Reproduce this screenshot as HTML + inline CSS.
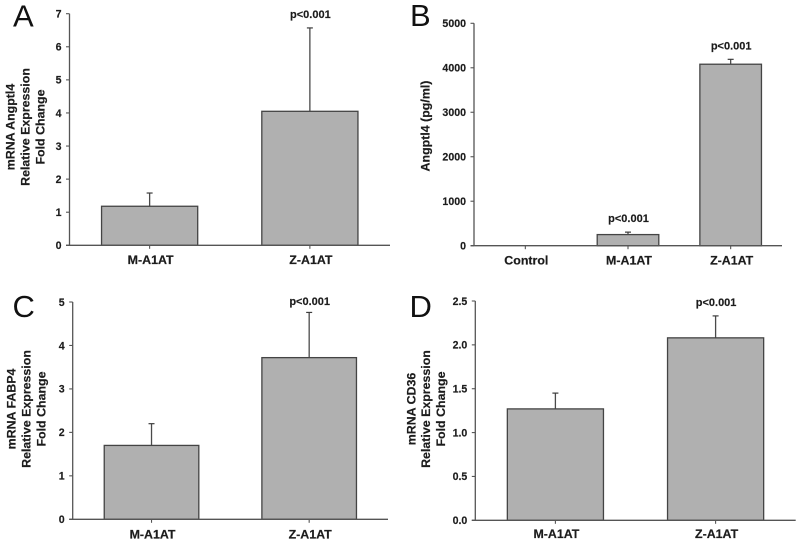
<!DOCTYPE html>
<html lang="en">
<head>
<meta charset="utf-8">
<title>Four-panel bar charts</title>
<style>
  html, body { margin: 0; padding: 0; background: #fff; }
  svg { display: block; width: 800px; height: 543px; filter: blur(0.35px); }
  text { font-family: "Liberation Sans", Arial, sans-serif; fill: #1c1c1c; }
  .tick { font-size: 10.6px; font-weight: bold; stroke: #1c1c1c; stroke-width: 0.15px; }
  .cat { font-size: 12.4px; font-weight: bold; stroke: #1c1c1c; stroke-width: 0.2px; }
  .title { font-size: 12.4px; font-weight: bold; stroke: #1c1c1c; stroke-width: 0.2px; }
  .sig { font-size: 11px; font-weight: bold; stroke: #1c1c1c; stroke-width: 0.15px; }
  .letter { font-size: 31px; fill: #111; }
</style>
</head>
<body>
<svg id="figure" xmlns="http://www.w3.org/2000/svg" width="800" height="543" viewBox="0 0 800 543"></svg>
<script>
// Panel A data
const categoriesA = ['M-A1AT', 'Z-A1AT'];
const valuesA = [1.18, 4.05];
const errorTopsA = [1.58, 6.57];
const significanceA = ['', 'p<0.001'];
const ticksA = ['0', '1', '2', '3', '4', '5', '6', '7'];
const titleA = ['mRNA Angptl4', 'Relative Expression', 'Fold Change'];

// Panel B data
const categoriesB = ['Control', 'M-A1AT', 'Z-A1AT'];
const valuesB = [0, 250, 4080];
const errorTopsB = [0, 305, 4190];
const significanceB = ['', 'p<0.001', 'p<0.001'];
const ticksB = ['0', '1000', '2000', '3000', '4000', '5000'];
const titleB = ['Angptl4 (pg/ml)'];

// Panel C data
const categoriesC = ['M-A1AT', 'Z-A1AT'];
const valuesC = [1.7, 3.72];
const errorTopsC = [2.2, 4.76];
const significanceC = ['', 'p<0.001'];
const ticksC = ['0', '1', '2', '3', '4', '5'];
const titleC = ['mRNA FABP4', 'Relative Expression', 'Fold Change'];

// Panel D data
const categoriesD = ['M-A1AT', 'Z-A1AT'];
const valuesD = [1.27, 2.08];
const errorTopsD = [1.45, 2.33];
const significanceD = ['', 'p<0.001'];
const ticksD = ['0.0', '0.5', '1.0', '1.5', '2.0', '2.5'];
const titleD = ['mRNA CD36', 'Relative Expression', 'Fold Change'];

const NS = 'http://www.w3.org/2000/svg';
const figure = document.getElementById('figure');

function make(parent, tag, attrs, text) {
  const el = document.createElementNS(NS, tag);
  for (const k in attrs) el.setAttribute(k, attrs[k]);
  if (text !== undefined) el.textContent = text;
  parent.appendChild(el);
  return el;
}

function drawPanel(p) {
  const g = make(figure, 'g', {});
  
  

  const maxValue = parseFloat(p.ticks[p.ticks.length - 1]);
  const yScale = v => p.y0 - (v / maxValue) * (p.y0 - p.yTop);
  const step = (p.xEnd - p.x0) / p.categories.length;
  const xScale = i => p.x0 + (i + 0.5) * step;
  const barWidth = step * 0.6;

  const letter = make(g, 'text', { x: p.letterX, y: p.letterY, class: 'letter' }, p.id.toUpperCase());
  
  

  p.title.forEach((line, i) => {
    const bx = p.titleX + i * 14.8;
    const t = make(g, 'text', {
      x: bx, y: p.titleY, class: 'title', 'text-anchor': 'middle',
      transform: 'rotate(-90 ' + bx + ' ' + p.titleY + ')'
    }, line);
    
    
  });

  p.categories.forEach((cat, i) => {
    const cx = xScale(i);
    if (p.values[i] > 0) {
      const errLine = make(g, 'line', {
        x1: cx, x2: cx, y1: yScale(p.values[i]), y2: yScale(p.errorTops[i]),
        stroke: '#4a4a4a', 'stroke-width': 1.3
      });
      
      
      const cap = make(g, 'line', {
        x1: cx - 3, x2: cx + 3, y1: yScale(p.errorTops[i]), y2: yScale(p.errorTops[i]),
        stroke: '#3c3c3c', 'stroke-width': 1.2
      });
      
      
      const bar = make(g, 'rect', {
        x: cx - barWidth / 2, y: yScale(p.values[i]),
        width: barWidth, height: p.y0 - yScale(p.values[i]),
        fill: '#b0b0b0', stroke: '#444', 'stroke-width': 1.3
      });
      
      
    }
    const tick = make(g, 'line', {
      x1: cx, x2: cx, y1: p.y0, y2: p.y0 + 3.5, stroke: '#555', 'stroke-width': 1.1
    });
    
    
    const label = make(g, 'text', {
      x: cx + 1, y: p.catY, class: 'cat', 'text-anchor': 'middle'
    }, cat);
    
    
    if (p.significance[i]) {
      const sig = make(g, 'text', {
        x: cx + 0.5, y: yScale(p.errorTops[i]) - p.sigGap, class: 'sig', 'text-anchor': 'middle'
      }, p.significance[i]);
      
      
    }
  });

  p.ticks.forEach(label => {
    const y = yScale(parseFloat(label));
    const tick = make(g, 'line', {
      x1: p.x0 - 3.5, x2: p.x0, y1: y, y2: y, stroke: '#555', 'stroke-width': 1.1
    });
    
    
    const t = make(g, 'text', {
      x: p.x0 - 8, y: y + 3.8, class: 'tick', 'text-anchor': 'end'
    }, label);
    
    
  });

  const yAxis = make(g, 'line', {
    x1: p.x0, x2: p.x0, y1: p.yTop, y2: p.y0, stroke: '#555', 'stroke-width': 1.3
  });
  
  
  const xAxis = make(g, 'line', {
    x1: p.x0 - 3.5, x2: p.xEnd, y1: p.y0, y2: p.y0, stroke: '#555', 'stroke-width': 1.3
  });
  
  
}

drawPanel({
  id: 'a', categories: categoriesA, values: valuesA, errorTops: errorTopsA,
  significance: significanceA, ticks: ticksA, title: titleA,
  x0: 69.5, xEnd: 390, y0: 245.3, yTop: 13.7, catY: 264, sigGap: 10,
  letterX: 13, letterY: 26.7, titleX: 14.7, titleY: 127
});
drawPanel({
  id: 'b', categories: categoriesB, values: valuesB, errorTops: errorTopsB,
  significance: significanceB, ticks: ticksB, title: titleB,
  x0: 474, xEnd: 782, y0: 245.7, yTop: 23.3, catY: 264.5, sigGap: 10,
  letterX: 410, letterY: 26, titleX: 429.3, titleY: 126
});
drawPanel({
  id: 'c', categories: categoriesC, values: valuesC, errorTops: errorTopsC,
  significance: significanceC, ticks: ticksC, title: titleC,
  x0: 72.7, xEnd: 388, y0: 519.3, yTop: 302, catY: 538.5, sigGap: 7.6,
  letterX: 12.5, letterY: 317, titleX: 15.7, titleY: 409
});
drawPanel({
  id: 'd', categories: categoriesD, values: valuesD, errorTops: errorTopsD,
  significance: significanceD, ticks: ticksD, title: titleD,
  x0: 475.3, xEnd: 795.7, y0: 520.3, yTop: 301, catY: 538, sigGap: 10,
  letterX: 409.5, letterY: 317, titleX: 415.3, titleY: 409
});
</script>
</body>
</html>
